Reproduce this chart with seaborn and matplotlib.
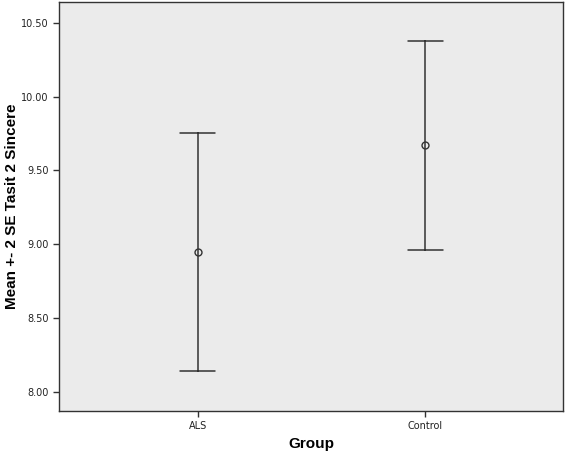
import numpy as np
import pandas as pd
import matplotlib
matplotlib.use("Agg")
import matplotlib.pyplot as plt
import seaborn as sns

# 组别与误差条（均值 ± 2 SE）
groups = ["ALS", "Control"]
means = [8.95, 9.67]
lower = [8.14, 8.96]
upper = [9.755, 10.38]

# 误差条两端各作为一个样本，pi=100 取最小/最大值
df = pd.DataFrame({
    "Group": groups + groups,
    "value": lower + upper,
})

sns.set_style("white")
plt.rcParams["font.family"] = ["Liberation Sans", "DejaVu Sans"]

fig = plt.figure(figsize=(5.67, 4.55), dpi=100)
ax = fig.add_axes([59 / 567, 1 - 411 / 455, (563 - 59) / 567, (411 - 2) / 455])
ax.set_facecolor("#ebebeb")

sns.pointplot(data=df, x="Group", y="value", order=groups,
              estimator="mean", errorbar=("pi", 100),
              linestyle="none", markers="o", color="#333333",
              capsize=0.155, err_kws={"linewidth": 1.1},
              markersize=5, ax=ax)

for line in ax.lines:
    line.set_markerfacecolor("none")
    line.set_markeredgewidth(1.0)

ax.set_xlim(-0.61, 1.605)
ax.set_ylim(7.87, 10.642)
ticks = [8.0, 8.5, 9.0, 9.5, 10.0, 10.5]
ax.set_yticks(ticks)
ax.set_yticklabels([f"{t:.2f}" for t in ticks])

for s in ax.spines.values():
    s.set_color("#333333")
    s.set_linewidth(1.0)

ax.tick_params(axis="both", which="both", length=4, width=1, color="#333333",
               labelsize=7, labelcolor="#222222", direction="out",
               left=True, bottom=True)
for lab in ax.get_xticklabels() + ax.get_yticklabels():
    lab.set_family("DejaVu Sans")

ax.set_xlabel("Group", fontsize=11, fontweight="bold", color="black")
ax.set_ylabel("Mean +- 2 SE Tasit 2 Sincere", fontsize=11, fontweight="bold",
              color="black")
ax.xaxis.set_label_coords(0.5, -0.081)
ax.yaxis.set_label_coords(-0.094, 0.5)
ax.xaxis.label.set_va("center")
ax.yaxis.label.set_va("center")

fig.savefig("out.png", dpi=100)
